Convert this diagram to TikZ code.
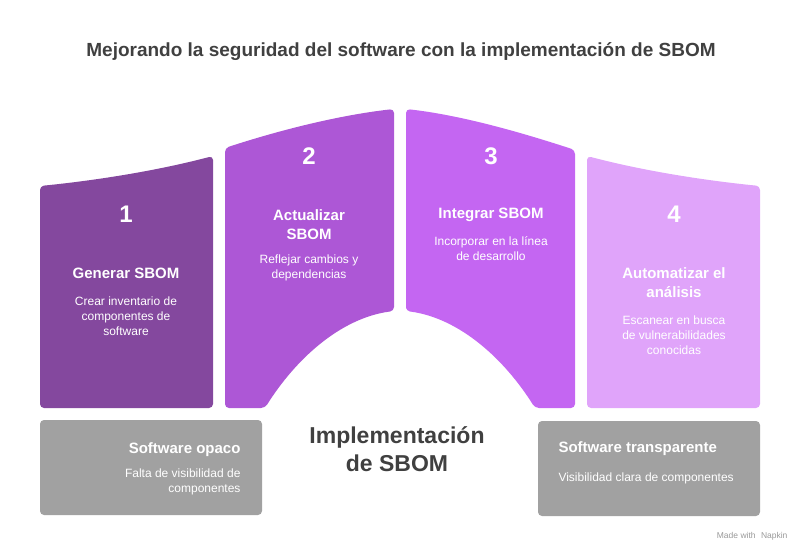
\documentclass[tikz,border=0pt]{standalone}
\usepackage{fontspec}
\setmainfont{Liberation Sans}
\definecolor{panelA}{HTML}{84489E}
\definecolor{panelB}{HTML}{AD57D6}
\definecolor{panelC}{HTML}{C466F2}
\definecolor{panelD}{HTML}{E0A4FA}
\definecolor{greybox}{HTML}{A1A1A1}
\definecolor{darktext}{HTML}{404040}
\begin{document}
\begin{tikzpicture}[x=1pt,y=-1pt,
    panel/.style={rounded corners=4pt},
    numtext/.style={text=white,font=\fontsize{24}{28}\selectfont\bfseries},
    headtext/.style={text=white,align=center,font=\fontsize{15}{19}\selectfont\bfseries},
    desctext/.style={text=white,align=center,font=\fontsize{12}{15}\selectfont}]
    \useasboundingbox (0,0) rectangle (800,556);
    
    % Title
    \node (title) at (401.000000,52.000000) [text=darktext,font=\fontsize{19}{22}\selectfont\bfseries] {Mejorando la seguridad del software con la implementación de SBOM};
    
    % Drawing panel 1
    \fill [panelA,panel] (40.000000,408.000000) -- (40.000000,186.000000) .. controls (100.000000,180.000000) and (160.000000,170.000000) .. (213.000000,156.000000) -- (213.000000,408.000000) -- cycle;
    \node (num1) at (126.000000,214.000000) [numtext] {1};
    \node (head1) at (126.000000,273.000000) [headtext] {Generar SBOM};
    \node (desc1) at (126.000000,316.000000) [desctext] {Crear inventario de\\componentes de\\software};
    
    % Drawing panel 2
    \fill [panelB,panel] (225.000000,408.000000) -- (225.000000,148.000000) .. controls (280.000000,130.000000) and (340.000000,115.000000) .. (394.000000,109.000000) -- (394.000000,311.000000) .. controls (340.000000,318.000000) and (295.000000,360.000000) .. (265.000000,408.000000) -- cycle;
    \node (num2) at (309.000000,156.000000) [numtext] {2};
    \node (head2) at (309.000000,224.500000) [headtext] {Actualizar\\SBOM};
    \node (desc2) at (309.000000,267.500000) [desctext] {Reflejar cambios y\\dependencias};
    
    % Drawing panel 3
    \fill [panelC,panel] (406.000000,311.000000) -- (406.000000,109.000000) .. controls (460.000000,115.000000) and (520.000000,132.000000) .. (575.000000,150.000000) -- (575.000000,408.000000) -- (535.000000,408.000000) .. controls (505.000000,360.000000) and (460.000000,318.000000) .. cycle;
    \node (num3) at (491.000000,156.000000) [numtext] {3};
    \node (head3) at (491.000000,215.000000) [headtext] {Integrar SBOM};
    \node (desc3) at (491.000000,248.500000) [desctext] {Incorporar en la línea\\de desarrollo};
    
    % Drawing panel 4
    \fill [panelD,panel] (587.000000,408.000000) -- (587.000000,156.000000) .. controls (640.000000,170.000000) and (700.000000,180.000000) .. (760.000000,186.000000) -- (760.000000,408.000000) -- cycle;
    \node (num4) at (674.000000,214.000000) [numtext] {4};
    \node (head4) at (674.000000,282.500000) [headtext] {Automatizar el\\análisis};
    \node (desc4) at (674.000000,335.500000) [desctext] {Escanear en busca\\de vulnerabilidades\\conocidas};
    
    % Grey boxes
    \fill [greybox,panel] (40.000000,420.000000) rectangle (262.000000,515.000000);
    \node (opaque) at (244.000000,450.000000) [anchor=east,headtext,align=right] {Software opaco};
    \node (opaquedesc) at (244.000000,481.500000) [anchor=east,desctext,align=right] {Falta de visibilidad de\\componentes};
    \fill [greybox,panel] (538.000000,421.000000) rectangle (760.000000,516.000000);
    \node (clear) at (555.000000,449.000000) [anchor=west,headtext,align=left] {Software transparente};
    \node (cleardesc) at (555.000000,478.000000) [anchor=west,desctext,align=left] {Visibilidad clara de componentes};
    
    % Centre label
    \node (centre) at (397.000000,449.000000) [text=darktext,align=center,font=\fontsize{23}{28}\selectfont\bfseries] {Implementación\\de SBOM};
    
    % Footer
    \node (footer) at (791.000000,536.000000) [anchor=east,text=black!40,font=\fontsize{8.5}{10}\selectfont] {Made with \hspace{3pt}Napkin};
\end{tikzpicture}
\end{document}
